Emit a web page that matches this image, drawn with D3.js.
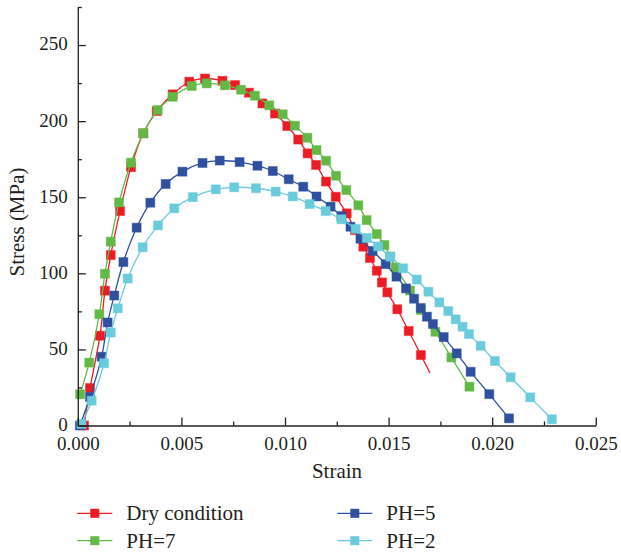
<!DOCTYPE html>
<html>
<head>
<meta charset="utf-8">
<script src="https://cdn.jsdelivr.net/npm/d3@7"></script>
<style>
    body { margin: 0; background: #fff; }
    text { font-family: "Liberation Serif", "Times New Roman", serif; fill: #231f20; }
</style>
</head>
<body>
<div id="chart"></div>
<script>
// values
var dryStrain = [0.0003, 0.00059, 0.00107, 0.00131, 0.00159, 0.00204, 0.00257, 0.00316, 0.00381, 0.00458, 0.00538, 0.00614, 0.00698, 0.00759, 0.00826, 0.00891, 0.00952, 0.01011, 0.01064, 0.01109, 0.0115, 0.01198, 0.01245, 0.01298, 0.01338, 0.01378, 0.0141, 0.01443, 0.01468, 0.01494, 0.01542, 0.01597, 0.01656];
var dryStress = [0, 24.6, 59.0, 88.6, 112.0, 140.9, 169.8, 192.0, 206.6, 217.6, 225.9, 228.0, 226.5, 223.7, 218.7, 211.6, 205.0, 196.8, 187.9, 178.8, 171.2, 160.3, 150.3, 139.4, 128.4, 117.5, 110.1, 101.7, 94.0, 87.5, 76.4, 62.1, 46.3];
// the dry curve runs on a little past its last marker
var dryTail = [0.0170, 34.5];

var ph7Strain = [0.00011, 0.00055, 0.00104, 0.00131, 0.00159, 0.00199, 0.00257, 0.00316, 0.00386, 0.00458, 0.0055, 0.00622, 0.0071, 0.00788, 0.00855, 0.00924, 0.00989, 0.01048, 0.01108, 0.01152, 0.01198, 0.01246, 0.01296, 0.01354, 0.01394, 0.01443, 0.0148, 0.01507, 0.01534, 0.01603, 0.01656, 0.01726, 0.01803, 0.0189];
var ph7Stress = [20.5, 41.3, 73.1, 99.7, 120.8, 146.6, 172.7, 192.0, 207.3, 216.0, 223.1, 224.8, 223.5, 220.6, 216.7, 210.4, 204.5, 197.0, 189.1, 181.0, 174.0, 164.1, 154.7, 144.7, 135.0, 125.8, 118.6, 111.0, 103.9, 88.7, 75.9, 61.6, 44.7, 25.5];

var ph5Strain = [0.0001, 0.00059, 0.00115, 0.00144, 0.00176, 0.0022, 0.00284, 0.0035, 0.00424, 0.00505, 0.00602, 0.00685, 0.00781, 0.00867, 0.00941, 0.01018, 0.01088, 0.01152, 0.0122, 0.01272, 0.01316, 0.01364, 0.01423, 0.01486, 0.01538, 0.01584, 0.01623, 0.01655, 0.01685, 0.01714, 0.01766, 0.01829, 0.01896, 0.01986, 0.02081];
var ph5Stress = [0, 18.7, 45.2, 67.7, 85.4, 107.4, 130.0, 146.4, 158.7, 166.8, 172.5, 174.1, 173.1, 170.7, 167.2, 161.8, 156.9, 150.5, 143.8, 137.6, 130.6, 122.7, 114.7, 106.0, 97.8, 90.1, 83.3, 77.2, 71.5, 66.7, 58.1, 47.4, 35.3, 20.6, 4.7];

var ph2Strain = [0.00018, 0.00067, 0.00127, 0.00159, 0.00193, 0.00241, 0.00313, 0.00387, 0.00466, 0.00555, 0.00666, 0.00755, 0.0086, 0.00955, 0.01037, 0.01119, 0.01196, 0.01272, 0.01341, 0.01395, 0.01449, 0.01508, 0.0157, 0.01636, 0.01692, 0.01745, 0.01788, 0.01824, 0.01857, 0.01888, 0.01944, 0.02013, 0.02089, 0.02184, 0.02288];
var ph2Stress = [1, 16.3, 40.9, 61.1, 77.0, 96.6, 117.1, 131.5, 142.7, 150.1, 155.2, 156.5, 155.9, 153.7, 150.5, 145.5, 140.9, 135.5, 129.2, 123.2, 117.7, 110.9, 103.3, 95.9, 87.9, 80.9, 75.2, 69.8, 64.9, 60.1, 52.4, 42.4, 31.7, 18.5, 4.1];

var seriesNames = ["Dry condition", "PH=7", "PH=5", "PH=2"];
var seriesColors = ["#ed1c24", "#63b946", "#2f4f9f", "#6acbdd"];

var xMajor = [0, 0.005, 0.010, 0.015, 0.020, 0.025];
var xMinor = [0.0025, 0.0075, 0.0125, 0.0175, 0.0225];
var yMajor = [0, 50, 100, 150, 200, 250];
var yMinor = [25, 75, 125, 175, 225, 275];

function zip(xs, ys) {
    return xs.map(function (v, i) { return { x: v, y: ys[i] }; });
}

var series = [
    { name: seriesNames[0], color: seriesColors[0], points: zip(dryStrain, dryStress), tail: { x: dryTail[0], y: dryTail[1] } },
    { name: seriesNames[1], color: seriesColors[1], points: zip(ph7Strain, ph7Stress) },
    { name: seriesNames[2], color: seriesColors[2], points: zip(ph5Strain, ph5Stress) },
    { name: seriesNames[3], color: seriesColors[3], points: zip(ph2Strain, ph2Stress) }
];

var width = 621,
    height = 552;

var svg = d3.select("#chart")
    .append("svg")
    .attr("width", width)
    .attr("height", height);

var x = d3.scaleLinear()
    .domain([0, 0.025])
    .range([77.8, 595.8]);

var y = d3.scaleLinear()
    .domain([0, 275])
    .range([425.5, 7]);

var line = d3.line()
    .x(function (d) { return x(d.x); })
    .y(function (d) { return y(d.y); })
    .curve(d3.curveCatmullRom.alpha(0.5));

var markSize = 9;

series.forEach(function (s) {
    var g = svg.append("g").attr("class", "series");
    var linePts = s.tail ? s.points.concat([s.tail]) : s.points;

    g.append("path")
        .datum(linePts)
        .attr("d", line)
        .style("fill", "none")
        .style("stroke", s.color)
        .style("stroke-width", 1.3);

    g.selectAll("rect")
        .data(s.points)
        .enter().append("rect")
        .attr("x", function (d) { return x(d.x) - markSize / 2; })
        .attr("y", function (d) { return y(d.y) - markSize / 2; })
        .attr("width", markSize)
        .attr("height", markSize)
        .style("fill", s.color)
        .style("stroke", s.color)
        .style("stroke-opacity", 0.45)
        .style("stroke-width", 1);
});

// axes
var xAxis = svg.append("g")
    .attr("transform", "translate(0," + y(0) + ")")
    .call(d3.axisBottom(x)
        .tickValues(xMajor)
        .tickFormat(d3.format(".3f"))
        .tickSizeInner(-8)
        .tickSizeOuter(0)
        .tickPadding(11));

svg.append("g")
    .attr("transform", "translate(0," + y(0) + ")")
    .call(d3.axisBottom(x)
        .tickValues(xMinor)
        .tickFormat("")
        .tickSizeInner(-4)
        .tickSizeOuter(0))
    .call(function (g) { g.select(".domain").remove(); });

var yAxis = svg.append("g")
    .attr("transform", "translate(" + x(0) + ",0)")
    .call(d3.axisLeft(y)
        .tickValues(yMajor)
        .tickSizeInner(-8)
        .tickSizeOuter(0)
        .tickPadding(10));

svg.append("g")
    .attr("transform", "translate(" + x(0) + ",0)")
    .call(d3.axisLeft(y)
        .tickValues(yMinor)
        .tickFormat("")
        .tickSizeInner(-4)
        .tickSizeOuter(0))
    .call(function (g) { g.select(".domain").remove(); });

svg.selectAll(".domain, .tick line")
    .style("stroke", "#231f20")
    .style("stroke-width", 1.3);

xAxis.selectAll("text").style("font-size", "19px");
yAxis.selectAll("text")
    .style("font-size", "19px")
    .attr("dy", "0.26em");

// axis titles
svg.append("text")
    .attr("x", 337)
    .attr("y", 478)
    .attr("text-anchor", "middle")
    .style("font-size", "21px")
    .text("Strain");

svg.append("text")
    .attr("transform", "translate(24,222) rotate(-90)")
    .attr("text-anchor", "middle")
    .style("font-size", "21px")
    .text("Stress (MPa)");

// legend, two columns
var legendPos = [
    { x: 77.3, y: 513.3 },
    { x: 77.3, y: 540.7 },
    { x: 337.3, y: 513.3 },
    { x: 337.3, y: 540.7 }
];

var legend = svg.append("g").attr("class", "legend")
    .selectAll("g")
    .data(series)
    .enter().append("g")
    .attr("transform", function (d, i) { return "translate(" + legendPos[i].x + "," + legendPos[i].y + ")"; });

legend.append("line")
    .attr("x1", 0)
    .attr("x2", 35)
    .style("stroke", function (d) { return d.color; })
    .style("stroke-width", 1.3);

legend.append("rect")
    .attr("x", 17.5 - 4.5)
    .attr("y", -4.5)
    .attr("width", 9)
    .attr("height", 9)
    .style("fill", function (d) { return d.color; });

legend.append("text")
    .attr("x", 49)
    .attr("y", 7)
    .style("font-size", "21px")
    .text(function (d) { return d.name; });
</script>
</body>
</html>
